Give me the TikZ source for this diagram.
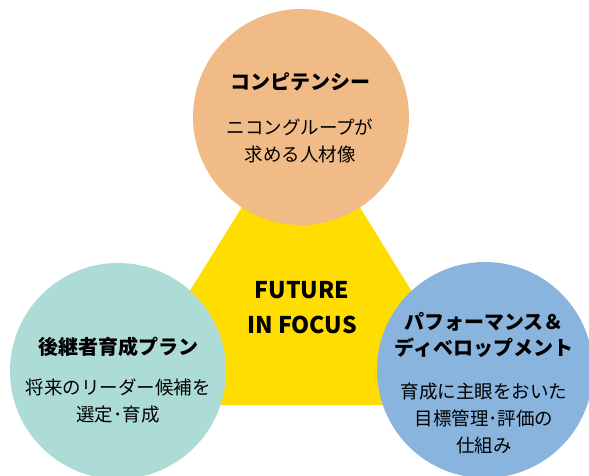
\documentclass[tikz,border=0pt]{standalone}
\usepackage{fontspec}
\setmainfont{Noto Sans CJK JP}
\definecolor{cOrange}{RGB}{241,187,135}
\definecolor{cTeal}{RGB}{173,219,213}
\definecolor{cBlue}{RGB}{137,180,221}
\definecolor{cYellow}{RGB}{255,221,0}
\tikzset{
  bubble/.style={circle, inner sep=0pt, minimum size=216pt, draw=none},
  ttl/.style={font=\fontsize{20}{26}\selectfont\bfseries, align=center, inner sep=0pt, text=black},
  sub/.style={font=\fontsize{18.5}{27}\selectfont, align=center, inner sep=0pt, text=black},
  core/.style={font=\fontsize{23}{35}\selectfont\bfseries, align=center, inner sep=0pt, text=black}
}
\begin{document}
\begin{tikzpicture}[x=1pt,y=-1pt]
\useasboundingbox (0,0) rectangle (589,475);
\clip (0,0) rectangle (589,475);
\coordinate (apex) at (301,112);
\coordinate (bl) at (119,405);
\coordinate (br) at (482,405);
\fill[cYellow] (apex) -- (bl) -- (br) -- cycle;
\node[bubble, fill=cOrange] (top) at (301,117) {};
\node[bubble, fill=cTeal] (left) at (118,371) {};
\node[bubble, fill=cBlue] (right) at (485,370) {};
\node[ttl] (toptitle) at (300,82) {コンピテンシー};
\node[sub] (topsub) at (300,140.5) {ニコングループが\\求める人材像};
\node[ttl] (lefttitle) at (118,347) {後継者育成プラン};
\node[sub] (leftsub) at (118,401) {将来のリーダー候補を\\選定･育成};
\node[ttl] (righttitle) at (484,335) {パフォーマンス＆\\ディベロップメント};
\node[sub] (rightsub) at (484,418.5) {育成に主眼をおいた\\目標管理･評価の\\仕組み};
\node[core] (center) at (302,307.5) {FUTURE\\IN FOCUS};
\end{tikzpicture}
\end{document}
